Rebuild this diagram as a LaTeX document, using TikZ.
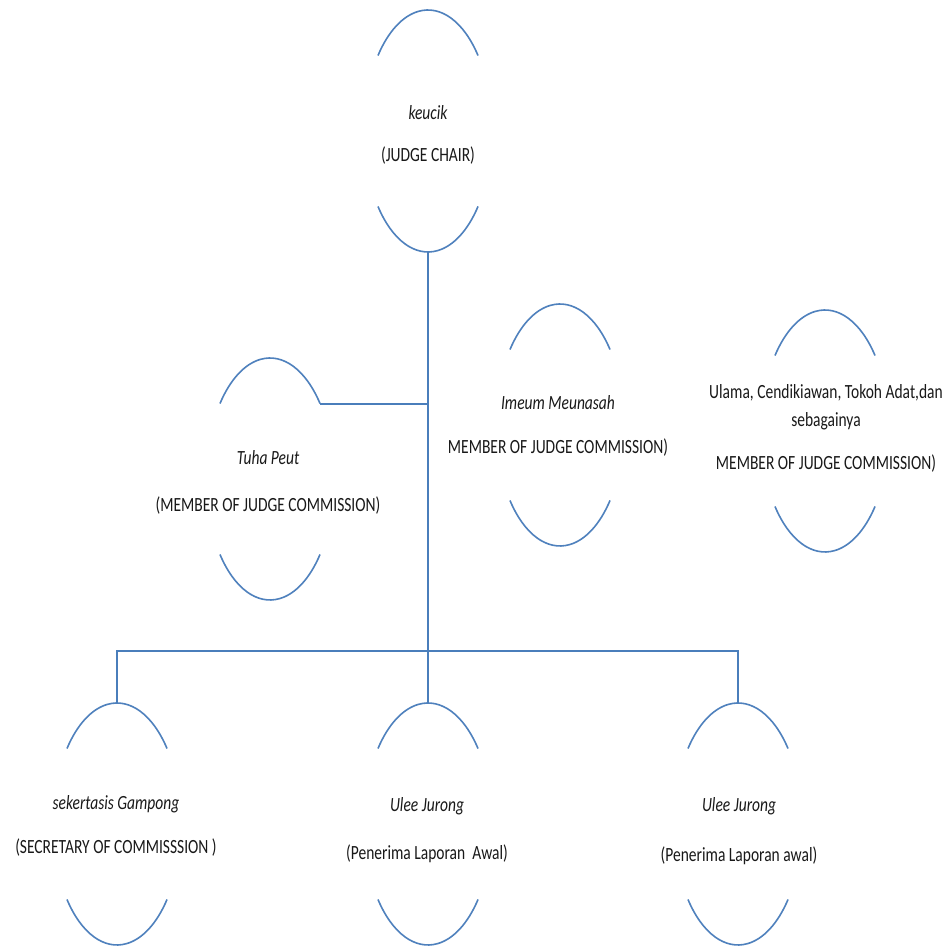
\documentclass[tikz,border=0pt]{standalone}
\usepackage{fontspec}
\usepackage{graphicx}
\setmainfont{Carlito}
\usetikzlibrary{shapes.geometric}
\definecolor{arcblue}{HTML}{4F81BD}
\definecolor{lineblue}{HTML}{4A7EBB}
\tikzset{
  oval/.style={ellipse, draw=none, minimum width=128pt, minimum height=242pt, inner sep=0pt, outer sep=0pt},
  arcline/.style={draw=arcblue, line width=1.6pt},
  conn/.style={draw=lineblue, line width=2pt},
  lbl/.style={font=\fontsize{15.5}{18}\selectfont, anchor=base, inner sep=0pt, text=black!90},
  namelbl/.style={lbl, font=\fontsize{15.5}{18}\selectfont\itshape},
}
\newcommand\tallt[1]{\scalebox{1}[1.3]{#1}}
\newcommand\ovarcs[1]{%
  \draw[arcline] ([shift={(38.6:64pt and 121pt)}]#1.center) arc[start angle=38.6, end angle=141.4, x radius=64pt, y radius=121pt];
  \draw[arcline] ([shift={(218.6:64pt and 121pt)}]#1.center) arc[start angle=218.6, end angle=321.4, x radius=64pt, y radius=121pt];
}
\begin{document}
\begin{tikzpicture}[x=1pt,y=1pt]
\path[fill=white] (0,0) rectangle (947,948);
\useasboundingbox (0,0) rectangle (947,948);
% ovals
\node[oval] (k)  at (428,817) {};
\node[oval] (t)  at (270,469) {};
\node[oval] (im) at (560,523) {};
\node[oval] (ul) at (825,517) {};
\node[oval] (s)  at (117,124) {};
\node[oval] (u1) at (428,124) {};
\node[oval] (u2) at (738,124) {};
\foreach \n in {k,t,im,ul,s,u1,u2}{\ovarcs{\n}}
% connectors
\coordinate (j) at (428,297);
\draw[conn] (k.south) -- (j);
\draw[conn] (s.north) -- (s.north |- j) -- (u2.north |- j) -- (u2.north);
\draw[conn] (j) -- (u1.north);
\draw[conn] (t.56.7) -- (t.56.7 -| j);
% labels
\node[namelbl] (k1) at (428,828) {\tallt{keucik}};
\node[lbl] (k2) at (428,786) {\tallt{(JUDGE CHAIR)}};
\node[namelbl] (t1) at (268,483) {\tallt{Tuha Peut}};
\node[lbl] (t2) at (268,436) {\tallt{(MEMBER OF JUDGE COMMISSION)}};
\node[namelbl] (im1) at (558,538) {\tallt{Imeum Meunasah}};
\node[lbl] (im2) at (558,494) {\tallt{MEMBER OF JUDGE COMMISSION)}};
\node[lbl] (ul1) at (826,549) {\tallt{Ulama, Cendikiawan, Tokoh Adat,dan}};
\node[lbl] (ul2) at (826,521) {\tallt{sebagainya}};
\node[lbl] (ul3) at (826,478) {\tallt{MEMBER OF JUDGE COMMISSION)}};
\node[namelbl] (s1) at (116,138) {\tallt{sekertasis Gampong}};
\node[lbl] (s2) at (116,94) {\tallt{(SECRETARY OF COMMISSSION )}};
\node[namelbl] (a1) at (427,136) {\tallt{Ulee Jurong}};
\node[lbl] (a2) at (427,88) {\tallt{(Penerima Laporan\ \ Awal)}};
\node[namelbl] (b1) at (739,136) {\tallt{Ulee Jurong}};
\node[lbl] (b2) at (739,86) {\tallt{(Penerima Laporan awal)}};
\end{tikzpicture}
\end{document}
